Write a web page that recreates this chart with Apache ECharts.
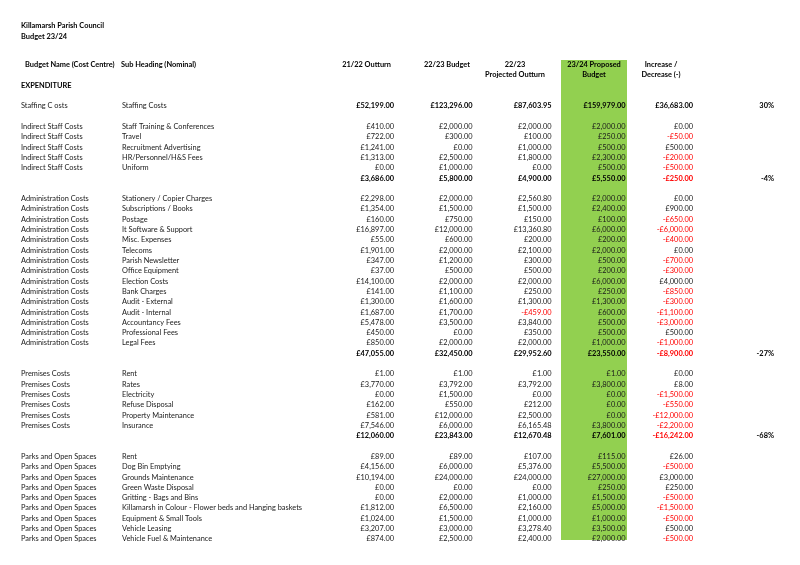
<!DOCTYPE html>
<html><head><meta charset="utf-8">
<script src="https://cdn.jsdelivr.net/npm/echarts@6/dist/echarts.min.js"></script>
<style>html,body{margin:0;padding:0;background:#fff}#c{width:800px;height:565px}</style>
</head><body><div id="c"></div>
<script>
// ---------- DATA ----------
const titleLines = ['Killamarsh Parish Council', 'Budget 23/24'];
const sectionLabel = 'EXPENDITURE';
const headCostCentre = 'Budget Name (Cost Centre)';
const headSubHeading = 'Sub Heading (Nominal)';
const headOutturn2122 = ['21/22 Outturn'];
const headBudget2223 = ['22/23 Budget'];
const headProjected2223 = ['22/23', 'Projected Outturn'];
const headProposed2324 = ['23/24 Proposed', 'Budget'];
const headChange = ['Increase /', 'Decrease (-)'];

// one entry per printed line; null = empty line, '' = subtotal line
const costCentres = [
  'Staffing C osts', null,
  'Indirect Staff Costs','Indirect Staff Costs','Indirect Staff Costs','Indirect Staff Costs','Indirect Staff Costs','', null,
  'Administration Costs','Administration Costs','Administration Costs','Administration Costs','Administration Costs',
  'Administration Costs','Administration Costs','Administration Costs','Administration Costs','Administration Costs',
  'Administration Costs','Administration Costs','Administration Costs','Administration Costs','Administration Costs','', null,
  'Premises Costs','Premises Costs','Premises Costs','Premises Costs','Premises Costs','Premises Costs','', null,
  'Parks and Open Spaces','Parks and Open Spaces','Parks and Open Spaces','Parks and Open Spaces','Parks and Open Spaces',
  'Parks and Open Spaces','Parks and Open Spaces','Parks and Open Spaces','Parks and Open Spaces'
];
const subHeadings = [
  'Staffing Costs', null,
  'Staff Training & Conferences','Travel','Recruitment Advertising','HR/Personnel/H&S Fees','Uniform','', null,
  'Stationery / Copier Charges','Subscriptions / Books','Postage','It Software & Support','Misc. Expenses',
  'Telecoms','Parish Newsletter','Office Equipment','Election Costs','Bank Charges',
  'Audit - External','Audit - Internal','Accountancy Fees','Professional Fees','Legal Fees','', null,
  'Rent','Rates','Electricity','Refuse Disposal','Property Maintenance','Insurance','', null,
  'Rent','Dog Bin Emptying','Grounds Maintenance','Green Waste Disposal','Gritting - Bags and Bins',
  'Killamarsh in Colour - Flower beds and Hanging baskets','Equipment & Small Tools','Vehicle Leasing','Vehicle Fuel & Maintenance'
];
const outturn2122 = [
  52199, null,
  410, 722, 1241, 1313, 0, 3686, null,
  2298, 1354, 160, 16897, 55, 1901, 347, 37, 14100, 141, 1300, 1687, 5478, 450, 850, 47055, null,
  1, 3770, 0, 162, 581, 7546, 12060, null,
  89, 4156, 10194, 0, 0, 1812, 1024, 3207, 874
];
const budget2223 = [
  123296, null,
  2000, 300, 0, 2500, 1000, 5800, null,
  2000, 1500, 750, 12000, 600, 2000, 1200, 500, 2000, 1100, 1600, 1700, 3500, 0, 2000, 32450, null,
  1, 3792, 1500, 550, 12000, 6000, 23843, null,
  89, 6000, 24000, 0, 2000, 6500, 1500, 3000, 2500
];
const projected2223 = [
  87603.95, null,
  2000, 100, 1000, 1800, 0, 4900, null,
  2560.80, 1500, 150, 13360.80, 200, 2100, 300, 500, 2000, 250, 1300, -459, 3840, 350, 2000, 29952.60, null,
  1, 3792, 0, 212, 2500, 6165.48, 12670.48, null,
  107, 5376, 24000, 0, 1000, 2160, 1000, 3278.40, 2400
];
const proposed2324 = [
  159979, null,
  2000, 250, 500, 2300, 500, 5550, null,
  2000, 2400, 100, 6000, 200, 2000, 500, 200, 6000, 250, 1300, 600, 500, 500, 1000, 23550, null,
  1, 3800, 0, 0, 0, 3800, 7601, null,
  115, 5500, 27000, 250, 1500, 5000, 1000, 3500, 2000
];
const change = [
  36683, null,
  0, -50, 500, -200, -500, -250, null,
  0, 900, -650, -6000, -400, 0, -700, -300, 4000, -850, -300, -1100, -3000, 500, -1000, -8900, null,
  0, 8, -1500, -550, -12000, -2200, -16242, null,
  26, -500, 3000, 250, -500, -1500, -500, 500, -500
];
const changePct = { 0: '30%', 7: '-4%', 24: '-27%', 32: '-68%' };
const subtotalRows = [0, 7, 24, 32];

// ---------- LAYOUT / STYLE ----------
const FONT = 'Lato';
const FS = 7.4;
const INK = '#1a1a1a';
const RED = '#ff0000';
const GREEN = '#92d050';
const colX = { centre: 21, sub: 122, o2122: 394, b2223: 472.5, p2223: 551.5, p2324: 625.5, chg: 693, pct: 774 };

function money(v) {
  const neg = v < 0;
  const parts = Math.abs(v).toFixed(2).split('.');
  parts[0] = parts[0].replace(/\B(?=(\d{3})+(?!\d))/g, ',');
  return (neg ? '-' : '') + '£' + parts.join('.');
}

const cells = [];
function add(x, row, text, align, bold, color) {
  cells.push({ value: [x, row], text, align, bold: !!bold, color: color || (bold ? '#000' : INK) });
}
// headers
add(21, -2, sectionLabel, 'left', true);
add(25, -4, headCostCentre, 'left', true);
add(colX.sub - 1, -4, headSubHeading, 'left', true);
headOutturn2122.forEach((t, i) => add(391, -4 + i, t, 'right', true));
headBudget2223.forEach((t, i) => add(470, -4 + i, t, 'right', true));
headProjected2223.forEach((t, i) => add(515, -4 + i, t, 'center', true));
headProposed2324.forEach((t, i) => add(594, -4 + i, t, 'center', true));
headChange.forEach((t, i) => add(661, -4 + i, t, 'center', true));

costCentres.forEach((cc, r) => {
  if (cc === null) return;
  const b = subtotalRows.includes(r);
  if (cc) add(colX.centre, r, cc, 'left', false);
  if (subHeadings[r]) add(colX.sub, r, subHeadings[r], 'left', false);
  const cols = [['o2122', outturn2122], ['b2223', budget2223], ['p2223', projected2223], ['p2324', proposed2324], ['chg', change]];
  cols.forEach(([k, arr]) => {
    const v = arr[r];
    add(colX[k], r, money(v), 'right', b, v < 0 ? RED : null);
  });
  if (changePct[r]) add(colX.pct, r, changePct[r], 'right', true);
});

const lastRow = costCentres.length - 1;
const band = [[colX.p2324 - 64.5, -4.45, colX.p2324 + 1.5, lastRow + 0.1]];

const chart = echarts.init(document.getElementById('c'), null, { renderer: 'canvas' });
chart.setOption({
  animation: false,
  backgroundColor: '#fff',
  title: {
    text: titleLines.join('\n'), left: 16, top: 15,
    textStyle: { fontFamily: FONT, fontSize: FS, fontWeight: 'bold', color: '#000', lineHeight: 11 }
  },
  grid: { left: 0, right: 0, top: 2.9, bottom: 5.4 },
  xAxis: { type: 'value', min: 0, max: 800, show: false },
  yAxis: { type: 'value', min: -10, max: 44, inverse: true, show: false },
  series: [
    {
      type: 'custom', clip: false, z: 1,
      data: band,
      renderItem(params, api) {
        const a = api.coord([api.value(0), api.value(1)]);
        const b = api.coord([api.value(2), api.value(3)]);
        return { type: 'rect', shape: { x: a[0], y: a[1], width: b[0] - a[0], height: b[1] - a[1] }, style: { fill: GREEN } };
      }
    },
    {
      type: 'custom', clip: false, z: 2,
      data: cells.map(c => c.value),
      renderItem(params, api) {
        const c = cells[params.dataIndex];
        const p = api.coord([api.value(0), api.value(1)]);
        return {
          type: 'text', x: p[0], y: p[1],
          style: {
            text: c.text, fill: c.color, font: (c.bold ? 'bold ' : '') + FS + 'px ' + FONT,
            textAlign: c.align, textVerticalAlign: 'middle'
          }
        };
      }
    }
  ]
});
</script></body></html>
